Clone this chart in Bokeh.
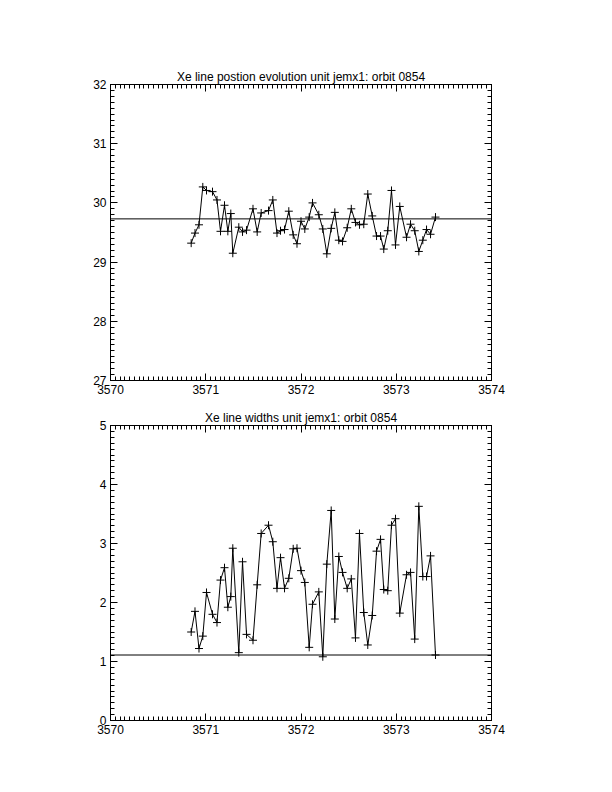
from bokeh.plotting import figure
from bokeh.models import Range1d, LinearAxis, SingleIntervalTicker, Span
from bokeh.layouts import column
from bokeh.embed import file_html
from bokeh.resources import INLINE

# time (days) of each measurement
time = [3570.847, 3570.887, 3570.929, 3570.969, 3571.008, 3571.071, 3571.118, 3571.155,
        3571.197, 3571.232, 3571.263, 3571.284, 3571.347, 3571.386, 3571.428, 3571.496,
        3571.540, 3571.582, 3571.659, 3571.704, 3571.748, 3571.785, 3571.827, 3571.872,
        3571.918, 3571.958, 3572.000, 3572.040, 3572.086, 3572.121, 3572.187, 3572.229,
        3572.271, 3572.317, 3572.355, 3572.397, 3572.436, 3572.485, 3572.528, 3572.572,
        3572.614, 3572.659, 3572.701, 3572.748, 3572.793, 3572.835, 3572.869, 3572.911,
        3572.950, 3572.992, 3573.037, 3573.108, 3573.150, 3573.194, 3573.237, 3573.279,
        3573.318, 3573.360, 3573.412]

# Xe line position
position = [29.32, 29.49, 29.63, 30.27, 30.21, 30.19, 30.05, 29.52,
            29.96, 29.52, 29.82, 29.15, 29.59, 29.51, 29.54, 29.90,
            29.51, 29.83, 29.87, 30.05, 29.49, 29.53, 29.55, 29.86,
            29.46, 29.31, 29.69, 29.56, 29.76, 30.00, 29.80, 29.56,
            29.14, 29.57, 29.84, 29.37, 29.35, 29.58, 29.90, 29.67,
            29.63, 29.64, 30.15, 29.78, 29.44, 29.44, 29.22, 29.53,
            30.21, 29.29, 29.94, 29.42, 29.64, 29.53, 29.18, 29.37,
            29.55, 29.47, 29.76]

# Xe line width
widths = [1.50, 1.85, 1.22, 1.43, 2.17, 1.80, 1.66, 2.38,
          2.59, 1.92, 2.10, 2.92, 1.15, 2.69, 1.46, 1.36,
          2.30, 3.17, 3.31, 3.03, 2.24, 2.76, 2.24, 2.41,
          2.91, 2.92, 2.54, 2.34, 1.24, 1.97, 2.18, 1.08,
          2.65, 3.56, 1.72, 2.78, 2.51, 2.24, 2.40, 1.40,
          3.17, 1.83, 1.28, 1.78, 2.87, 3.07, 2.22, 2.20,
          3.31, 3.42, 1.82, 2.47, 2.51, 1.38, 3.63, 2.44,
          2.44, 2.79, 1.11]

position_ref = 29.73
width_ref = 1.11

x_range_lim = (3570, 3574)
titles = ["Xe line postion evolution unit jemx1: orbit 0854",
          "Xe line widths unit jemx1: orbit 0854"]

FONT = "Liberation Sans"


def style_axis(ax, labels=True, minor=10):
    ax.ticker = SingleIntervalTicker(interval=1, num_minor_ticks=minor)
    ax.axis_line_color = "black"
    ax.major_tick_line_color = "black"
    ax.minor_tick_line_color = "black"
    ax.major_tick_in = 7
    ax.major_tick_out = 0
    ax.minor_tick_in = 4
    ax.minor_tick_out = 0
    ax.major_label_standoff = 4
    ax.major_label_text_font = FONT
    ax.major_label_text_font_size = "12px"
    ax.major_label_text_color = "black" if labels else None


def make(title, ylim, ys, ref, h, top, bottom):
    p = figure(width=596, height=h, output_backend="svg", toolbar_location=None,
               x_range=Range1d(*x_range_lim), y_range=Range1d(*ylim),
               x_axis_type=None, y_axis_type=None,
               min_border_left=110, min_border_right=105,
               min_border_top=top, min_border_bottom=bottom)
    p.background_fill_color = "white"
    p.border_fill_color = "white"
    p.outline_line_color = "black"
    p.grid.visible = False
    p.title.text = title
    p.title.align = "center"
    p.title.text_font = FONT
    p.title.text_font_size = "12px"
    p.title.text_font_style = "normal"
    p.title.text_color = "black"
    p.title.standoff = 2
    p.title.offset = 0

    for loc, lab in (("below", True), ("above", False)):
        ax = LinearAxis()
        style_axis(ax, lab, minor=20)
        p.add_layout(ax, loc)
    for loc, lab in (("left", True), ("right", False)):
        ax = LinearAxis()
        style_axis(ax, lab, minor=10)
        p.add_layout(ax, loc)

    p.add_layout(Span(location=ref, dimension="width", line_color="black", line_width=1))
    p.line(time, ys, line_color="black", line_width=1)
    p.scatter(time, ys, marker="cross", size=8, line_color="black", line_width=1)
    return p


p1 = make(titles[0], (27, 32), position, position_ref, 400, 84, 20)
p2 = make(titles[1], (0, 5), widths, width_ref, 350, 25, 30)

layout = column(p1, p2, spacing=0)
open("out.html", "w").write(file_html(layout, INLINE))
